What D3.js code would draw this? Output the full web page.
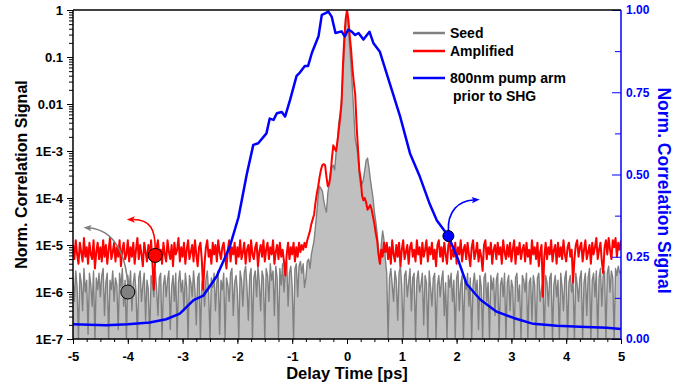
<!DOCTYPE html>
<html>
<head>
<meta charset="utf-8">
<script src="https://cdn.jsdelivr.net/npm/d3@7"></script>
<style>
  body { margin: 0; background: #fff; }
  svg text { font-family: 'Liberation Sans', Arial, sans-serif; font-weight: bold; }
</style>
</head>
<body>
<div id="chart"></div>
<script>
const width = 686;
const height = 384;
const margin = { top: 10, right: 65, bottom: 45, left: 73 };

// Scan positions [ps], 0.025 ps step from -5 to 5
const delay = d3.range(401).map((i) => (i * 25 - 5000) / 1000);

// log10 of the normalised seed autocorrelation
const seedLog = [
  -5.70, -6.20, -5.55, -5.90, -7.20, -5.60, -5.80, -6.40, -5.50, -6.00, -5.75, -6.90, -5.60, -5.85, -6.30, -5.55, -7.20, -5.70, -5.95, -5.60,
  -6.10, -5.65, -5.50, -6.50, -5.80, -5.60, -7.20, -5.75, -5.95, -5.55, -6.20, -5.70, -5.85, -6.80, -5.60, -5.90, -5.50, -6.30, -5.75, -7.20,
  -5.65, -5.95, -5.55, -6.40, -5.80, -5.60, -6.00, -7.20, -5.70, -5.55, -6.20, -5.85, -5.60, -6.60, -5.75, -5.95, -7.20, -5.65, -5.80, -6.10,
  -5.55, -5.90, -6.50, -5.70, -5.60, -7.20, -5.85, -5.65, -6.10, -5.75, -5.55, -6.80, -5.90, -5.65, -6.20, -5.60, -7.20, -5.80, -5.55, -6.00,
  -5.75, -6.40, -5.60, -5.90, -7.20, -5.65, -5.80, -6.10, -5.55, -5.95, -6.70, -5.70, -5.60, -7.20, -5.85, -5.65, -6.30, -5.75, -5.55, -6.00,
  -7.20, -5.70, -5.90, -5.60, -6.40, -5.80, -5.55, -6.90, -5.75, -5.95, -5.60, -7.20, -5.70, -5.85, -6.20, -5.60, -5.50, -6.50, -5.80, -5.65,
  -6.00, -7.20, -5.55, -5.75, -6.30, -5.60, -5.45, -5.90, -6.60, -5.65, -5.50, -7.20, -5.70, -5.55, -6.10, -5.45, -5.80, -6.40, -5.55, -5.70,
  -7.20, -5.50, -5.65, -6.20, -5.40, -5.75, -5.55, -6.50, -5.45, -5.70, -7.20, -5.50, -5.85, -5.40, -6.00, -5.55, -5.35, -6.30, -5.60, -5.45,
  -5.90, -7.20, -5.50, -5.40, -6.10, -5.45, -5.35, -5.60,
  // main peak, -0.80 .. 0.70 ps
  -5.40, -5.90, -5.70, -5.35, -5.30, -5.50, -5.20, -5.05, -4.90, -4.60, -4.30, -3.95, -3.75, -3.80, -3.85, -4.05, -4.20, -4.30, -3.90, -3.70,
  -3.45, -3.35, -3.30, -3.40, -3.05, -2.80, -2.40, -2.20, -1.90, -1.40, -0.90, -0.30, 0.00, -0.35, -0.80, -1.20, -1.70, -2.20, -2.75, -2.90,
  -3.10, -3.50, -3.75, -3.70, -3.60, -3.40, -3.20, -3.15, -3.35, -3.60, -3.80, -4.00, -4.30, -4.50, -4.75, -5.10, -5.40, -5.00, -4.70, -4.90,
  -5.30,
  -5.60, -7.20, -5.70, -5.50, -5.85, -6.20, -5.55, -5.75, -6.60, -5.60, -5.45, -5.90, -7.20, -5.65, -5.55, -6.10, -5.80, -5.50, -6.40, -5.70,
  -5.60, -7.20, -5.75, -5.55, -6.00, -5.85, -5.60, -6.70, -5.65, -5.80, -7.20, -5.55, -5.90, -6.30, -5.70, -5.60, -7.20, -5.85, -5.65, -6.10,
  -5.75, -5.55, -6.50, -5.80, -7.20, -5.65, -5.90, -5.60, -6.20, -5.75, -7.20, -5.70, -5.55, -6.40, -5.85, -5.65, -7.20, -5.75, -5.95, -5.60,
  -6.30, -5.70, -7.20, -5.85, -5.60, -6.00, -5.75, -6.80, -5.65, -5.90, -7.20, -5.70, -5.60, -6.20, -5.80, -7.20, -5.65, -5.95, -5.70, -6.50,
  -5.75, -5.60, -7.20, -5.85, -5.70, -6.10, -5.60, -7.20, -5.80, -5.65, -6.40, -5.75, -5.90, -7.20, -5.70, -5.60, -6.20, -5.85, -7.20, -5.65,
  -5.75, -6.00, -5.60, -7.20, -5.80, -5.70, -6.60, -5.65, -5.85, -7.20, -5.70, -5.60, -6.20, -5.95, -5.75, -7.20, -5.65, -5.80, -6.30, -5.70,
  -5.60, -7.20, -5.85, -5.65, -6.10, -5.75, -7.20, -5.60, -5.90, -6.40, -5.70, -5.55, -7.20, -5.80, -5.65, -6.00, -5.75, -7.20, -5.60, -5.85,
  -6.20, -5.70, -5.55, -7.20, -5.80, -5.60, -6.50, -5.70, -5.50, -7.20, -5.75, -5.60, -6.10, -5.55, -7.20, -5.70, -5.50, -6.30, -5.65, -5.55,
  -7.20, -5.60, -5.45, -6.00, -5.55, -5.70, -7.20, -5.50, -5.65, -5.45, -5.60, -5.55
];

// log10 of the normalised amplified autocorrelation
const ampLog = [
  -5.00, -5.30, -4.90, -5.20, -5.40, -4.95, -5.15, -5.35, -4.85, -5.25, -5.05, -5.40, -4.95, -5.20, -5.30, -4.90, -5.50, -5.15, -4.95, -5.30,
  -5.05, -5.35, -4.90, -5.25, -5.00, -5.40, -5.10, -4.85, -5.30, -5.15, -4.95, -5.35, -5.05, -5.25, -4.90, -5.45, -5.10, -4.95, -5.30, -5.20,
  -4.90, -5.35, -5.05, -5.25, -4.95, -5.40, -5.10, -4.85, -5.30, -5.00, -5.20, -5.45, -4.95, -5.15, -5.35, -5.00, -5.25, -4.90, -5.40, -5.95,
  -5.30, -5.05, -4.90, -5.25, -5.10, -5.40, -4.95, -5.20, -5.35, -4.90, -5.15, -5.30, -5.00, -5.45, -4.95, -5.20, -5.10, -4.85, -5.35, -5.05,
  -5.25, -4.95, -5.40, -5.10, -4.90, -5.30, -5.15, -5.00, -5.35, -4.90, -5.20, -5.45, -5.05, -4.95, -5.30, -5.95, -5.40, -5.05, -4.90, -5.25,
  -5.10, -5.40, -4.95, -5.20, -5.00, -5.35, -4.90, -5.15, -5.30, -5.05, -4.95, -5.25, -5.50, -5.10, -4.90, -5.35, -5.05, -5.20, -4.95, -5.40,
  -5.05, -5.25, -4.90, -5.30, -5.15, -4.95, -5.40, -5.10, -5.00, -5.35, -4.90, -5.20, -5.30, -5.05, -4.95, -5.45, -5.15, -5.00, -5.25, -4.90,
  -5.35, -5.10, -4.95, -5.30, -5.05, -5.20, -4.90, -5.40, -5.15, -5.00, -5.30, -4.95, -5.25, -5.10, -5.35, -5.65, -5.20, -4.95, -5.30, -5.05,
  -5.20, -4.95, -5.35, -5.05, -5.25, -4.95, -5.15, -5.00,
  // main peak, -0.80 .. 0.70 ps
  -5.10, -4.95, -5.05, -4.90, -4.80, -4.70, -4.55, -4.45, -4.35, -4.10, -3.90, -3.75, -3.55, -3.40, -3.30, -3.28, -3.30, -3.55, -3.75, -3.70,
  -3.50, -3.15, -2.88, -2.95, -3.00, -2.80, -2.55, -2.30, -2.00, -1.20, -0.60, -0.20, 0.00, -0.20, -0.55, -0.85, -1.25, -1.55, -1.80, -2.45,
  -2.95, -3.40, -3.60, -3.95, -4.05, -4.00, -4.10, -4.25, -4.20, -4.15, -4.25, -4.40, -4.55, -4.75, -4.90, -5.20, -5.40, -5.10, -5.25, -4.95,
  -5.15,
  -4.95, -5.30, -5.05, -5.40, -4.90, -5.20, -5.35, -5.00, -5.25, -4.95, -5.45, -5.10, -4.90, -5.30, -5.15, -5.00, -5.40, -5.05, -4.95, -5.25,
  -5.10, -5.35, -4.90, -5.20, -5.05, -5.40, -4.95, -5.25, -5.10, -4.90, -5.35, -5.05, -5.20, -4.95, -5.30, -5.10, -5.45, -5.00, -4.90, -5.25,
  -5.05, -5.35, -4.95, -5.20, -5.40, -5.00, -4.90, -5.30, -5.10, -5.25, -4.95, -5.40, -5.05, -5.20, -4.90, -5.35, -5.10, -5.00, -5.30, -4.95,
  -5.20, -5.45, -5.05, -4.90, -5.30, -5.15, -4.95, -5.35, -5.10, -5.25, -5.55, -5.00, -4.90, -5.30, -5.05, -5.20, -4.95, -5.40, -5.10, -5.00,
  -5.30, -4.95, -5.20, -5.05, -5.40, -4.90, -5.15, -5.30, -5.00, -5.25, -4.95, -5.35, -5.10, -4.90, -5.40, -5.05, -5.20, -4.95, -5.30, -5.10,
  -5.00, -5.35, -4.95, -5.25, -5.10, -5.40, -4.90, -5.20, -5.05, -5.30, -4.95, -5.45, -5.15, -5.00, -6.10, -5.25, -4.95, -5.30, -5.05, -5.20,
  -4.90, -5.35, -5.10, -5.00, -5.40, -4.95, -5.25, -5.05, -5.30, -4.90, -5.20, -5.35, -5.05, -4.95, -5.25, -5.10, -5.80, -5.30, -5.00, -4.90,
  -5.25, -5.05, -4.95, -5.35, -5.10, -4.90, -5.30, -5.15, -5.00, -5.40, -4.95, -5.20, -5.05, -4.85, -5.30, -5.10, -4.95, -5.35, -5.60, -5.05,
  -4.90, -5.20, -4.85, -5.10, -5.30, -4.90, -5.05, -4.85, -5.25, -4.95, -5.10, -4.90
];

// 800nm pump arm, linear right axis
const pumpDelay = [-5, -4.4, -4.0, -3.6, -3.3, -3.05, -2.8, -2.62, -2.38, -2.14, -1.98, -1.83, -1.71, -1.62, -1.47, -1.41, -1.34, -1.28, -1.19, -1.13,
  -1.04, -0.92, -0.86, -0.77, -0.71, -0.64, -0.52, -0.46, -0.40, -0.34, -0.28, -0.21, -0.10, -0.04, 0.02, 0.08, 0.15, 0.21, 0.30, 0.41,
  0.48, 0.60, 0.78, 0.97, 1.15, 1.33, 1.51, 1.64, 1.85, 2.03, 2.18, 2.43, 2.73, 3.04, 3.40, 3.83, 4.25, 4.74, 5.0];
const pumpSignal = [0.045, 0.042, 0.045, 0.05, 0.06, 0.077, 0.118, 0.132, 0.19, 0.28, 0.37, 0.50, 0.59, 0.595, 0.625, 0.67, 0.666, 0.686, 0.69, 0.676,
  0.726, 0.80, 0.81, 0.83, 0.83, 0.87, 0.92, 0.985, 0.99, 0.995, 0.98, 0.93, 0.935, 0.92, 0.94, 0.935, 0.924, 0.93, 0.91, 0.934,
  0.90, 0.873, 0.777, 0.676, 0.564, 0.493, 0.41, 0.36, 0.313, 0.24, 0.168, 0.12, 0.083, 0.064, 0.046, 0.04, 0.037, 0.034, 0.03];

const leftTicks = [1, 0.1, 0.01, 1e-3, 1e-4, 1e-5, 1e-6, 1e-7];
const leftTickLabels = ['1', '0.1', '0.01', '1E-3', '1E-4', '1E-5', '1E-6', '1E-7'];
const xTicks = [-5, -4, -3, -2, -1, 0, 1, 2, 3, 4, 5];
const rightTicks = [0, 0.25, 0.5, 0.75, 1];

// Axis-pointer dots: seed, amplified (left axis) and pump (right axis)
const dotDelay = [-4.0, -3.5, 1.85];
const dotValue = [1e-6, 6e-6, 0.313];

const legendLabels = ['Seed', 'Amplified', '800nm pump arm'];
const colors = { seed: '#808080', seedFill: '#c0c0c0', amp: '#ff0000', pump: '#0000ff' };

const x0 = margin.left;
const x1 = width - margin.right;
const y0 = height - margin.bottom;
const y1 = margin.top;

const x = d3.scaleLinear().domain([-5, 5]).range([x0, x1]);
const y = d3.scaleLog().domain([1e-7, 1]).range([y0, y1]).clamp(true);
const y2 = d3.scaleLinear().domain([0, 1]).range([y0, y1]);

const svg = d3.select('#chart').append('svg').attr('width', width).attr('height', height);

const defs = svg.append('defs');
defs.append('clipPath').attr('id', 'plot-clip')
  .append('rect').attr('x', x0).attr('y', y1).attr('width', x1 - x0).attr('height', y0 - y1);

[['gray', colors.seed], ['red', colors.amp], ['blue', colors.pump]].forEach(([id, c]) => {
  defs.append('marker')
    .attr('id', `arrow-${id}`)
    .attr('viewBox', '0 -5 10 10')
    .attr('refX', 2)
    .attr('markerUnits', 'userSpaceOnUse')
    .attr('markerWidth', 9)
    .attr('markerHeight', 8)
    .attr('orient', 'auto')
    .append('path')
    .attr('d', 'M0,-4 L10,0 L0,4 L2,0 Z')
    .attr('fill', c);
});

const seed = delay.map((t, i) => ({ t, v: Math.pow(10, seedLog[i]) }));
const amp = delay.map((t, i) => ({ t, v: Math.pow(10, ampLog[i]) }));
const pump = pumpDelay.map((t, i) => ({ t, v: pumpSignal[i] }));

const plot = svg.append('g').attr('clip-path', 'url(#plot-clip)');

plot.append('path')
  .datum(seed)
  .attr('fill', colors.seedFill)
  .attr('d', d3.area().x((d) => x(d.t)).y0(y0).y1((d) => y(d.v)));

plot.append('path')
  .datum(seed)
  .attr('fill', 'none')
  .attr('stroke', colors.seed)
  .attr('stroke-width', 1.4)
  .attr('stroke-linejoin', 'round')
  .attr('d', d3.line().x((d) => x(d.t)).y((d) => y(d.v)));

plot.append('path')
  .datum(amp)
  .attr('fill', 'none')
  .attr('stroke', colors.amp)
  .attr('stroke-width', 2)
  .attr('stroke-linejoin', 'round')
  .attr('d', d3.line().x((d) => x(d.t)).y((d) => y(d.v)));

plot.append('path')
  .datum(pump)
  .attr('fill', 'none')
  .attr('stroke', colors.pump)
  .attr('stroke-width', 2.5)
  .attr('stroke-linejoin', 'round')
  .attr('d', d3.line().x((d) => x(d.t)).y((d) => y2(d.v)));

// Dots with curved arrows pointing at the axis each curve belongs to
const dotCfg = [
  { color: colors.seed, marker: 'gray', r: 7, arc: (cx, cy) => `M${cx},${cy - 7} C${cx - 2},${cy - 40} ${cx - 15},${cy - 62} ${cx - 38},${cy - 64}` },
  { color: colors.amp, marker: 'red', r: 7, arc: (cx, cy) => `M${cx},${cy - 7} C${cx},${cy - 26} ${cx - 5},${cy - 36} ${cx - 22},${cy - 36}` },
  { color: colors.pump, marker: 'blue', r: 5.5, arc: (cx, cy) => `M${cx},${cy - 5} C${cx - 1},${cy - 25} ${cx + 10},${cy - 35} ${cx + 25},${cy - 36}` }
];

dotCfg.forEach((c, i) => {
  const cx = x(dotDelay[i]);
  const cy = i < 2 ? y(dotValue[i]) : y2(dotValue[i]);
  svg.append('path')
    .attr('d', c.arc(cx, cy))
    .attr('fill', 'none')
    .attr('stroke', c.color)
    .attr('stroke-width', 1.6)
    .attr('marker-end', `url(#arrow-${c.marker})`);
  svg.append('circle')
    .attr('cx', cx).attr('cy', cy).attr('r', c.r)
    .attr('fill', c.color)
    .attr('stroke', '#000')
    .attr('stroke-width', 1);
});

// Left log axis
const minorLeft = [];
for (let e = -7; e < 0; e++) for (let m = 2; m <= 9; m++) minorLeft.push(m * Math.pow(10, e));

const styleAxis = (g, size, color) => {
  g.select('.domain').remove();
  g.selectAll('line').attr('stroke', color).attr('stroke-width', 1);
  g.selectAll('text').attr('fill', color).style('font-size', `${size}px`);
  g.attr('font-family', null);
};

svg.append('g')
  .attr('transform', `translate(${x0},0)`)
  .call(d3.axisLeft(y).tickValues(minorLeft).tickSize(4).tickFormat(''))
  .call((g) => styleAxis(g, 13, '#000'));

svg.append('g')
  .attr('transform', `translate(${x0},0)`)
  .call(d3.axisLeft(y).tickValues(leftTicks).tickSize(6).tickPadding(4)
    .tickFormat((d, i) => leftTickLabels[i]))
  .call((g) => styleAxis(g, 13, '#000'));

// Bottom axis
svg.append('g')
  .attr('transform', `translate(0,${y0})`)
  .call(d3.axisBottom(x).tickValues(d3.range(-5, 5.01, 0.25)).tickSize(3).tickFormat(''))
  .call((g) => styleAxis(g, 13, '#000'));

svg.append('g')
  .attr('transform', `translate(0,${y0})`)
  .call(d3.axisBottom(x).tickValues(xTicks).tickSize(5).tickPadding(8).tickFormat((d) => String(d)))
  .call((g) => styleAxis(g, 13, '#000'));

// Right linear axis, ticks inward
svg.append('g')
  .attr('transform', `translate(${x1},0)`)
  .call(d3.axisRight(y2).tickValues(d3.range(0.125, 1, 0.25)).tickSize(-6).tickFormat(''))
  .call((g) => styleAxis(g, 12, colors.pump));

svg.append('g')
  .attr('transform', `translate(${x1},0)`)
  .call(d3.axisRight(y2).tickValues(rightTicks).tickSize(-9).tickPadding(5).tickFormat(d3.format('.2f')))
  .call((g) => styleAxis(g, 12, colors.pump));

// Frame
svg.append('line').attr('x1', x0).attr('x2', x0).attr('y1', y1).attr('y2', y0).attr('stroke', '#000').attr('stroke-width', 1.5);
svg.append('line').attr('x1', x0).attr('x2', x1).attr('y1', y0).attr('y2', y0).attr('stroke', '#000').attr('stroke-width', 1.5);
svg.append('line').attr('x1', x0).attr('x2', x1).attr('y1', y1).attr('y2', y1).attr('stroke', '#000').attr('stroke-width', 1.5);
svg.append('line').attr('x1', x1).attr('x2', x1).attr('y1', y1).attr('y2', y0).attr('stroke', colors.pump).attr('stroke-width', 1.5);

// Axis titles
svg.append('text')
  .attr('transform', `translate(27,${(y0 + y1) / 2}) rotate(-90)`)
  .attr('text-anchor', 'middle')
  .style('font-size', '16px')
  .text('Norm. Correlation Signal');

svg.append('text')
  .attr('transform', `translate(658,${(y0 + y1) / 2 + 16}) rotate(90)`)
  .attr('text-anchor', 'middle')
  .attr('fill', colors.pump)
  .style('font-size', '17.5px')
  .text('Norm. Correlation Signal');

svg.append('text')
  .attr('x', (x0 + x1) / 2)
  .attr('y', 379)
  .attr('text-anchor', 'middle')
  .style('font-size', '16.5px')
  .text('Delay Time [ps]');

// Legend
const legend = svg.append('g');
const legendY = [33, 51, 78];
const legendColors = [colors.seed, colors.amp, colors.pump];
legendLabels.forEach((label, i) => {
  legend.append('line')
    .attr('x1', 413).attr('x2', 445)
    .attr('y1', legendY[i]).attr('y2', legendY[i])
    .attr('stroke', legendColors[i]).attr('stroke-width', 2.5);
  legend.append('text')
    .attr('x', 450).attr('y', legendY[i]).attr('dy', '0.36em')
    .style('font-size', '14px')
    .text(label);
});
legend.append('text')
  .attr('x', 453).attr('y', 96).attr('dy', '0.36em')
  .style('font-size', '14px')
  .text('prior to SHG');
</script>
</body>
</html>
